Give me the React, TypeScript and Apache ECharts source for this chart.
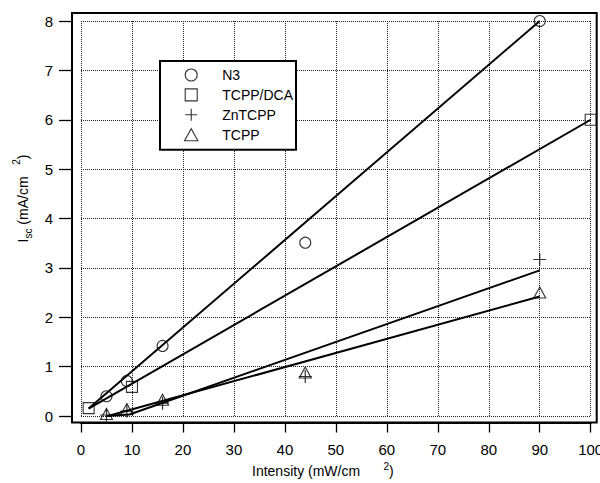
import React, { useEffect, useRef } from "react";
import * as echarts from "echarts";

// ---- data ----
const seriesNames = ["N3", "TCPP/DCA", "ZnTCPP", "TCPP"];

const n3X = [5, 9, 16, 44, 90];
const n3Y = [0.4, 0.71, 1.42, 3.51, 8.0];

const dcaX = [1.5, 10, 100];
const dcaY = [0.16, 0.59, 6.0];

const znX = [5, 9, 16, 44, 90];
const znY = [0.02, 0.1, 0.26, 0.8, 3.17];

const tcppX = [5, 9, 16, 44, 90];
const tcppY = [0.04, 0.14, 0.33, 0.88, 2.5];

// fitted lines (end / kink points)
const n3FitX = [1.5, 90];
const n3FitY = [0.15, 8.0];
const dcaFitX = [1.5, 100];
const dcaFitY = [0.15, 6.0];
const znFitX = [5, 9.5, 90];
const znFitY = [0.0, 0.03, 2.95];
const tcppFitX = [5.3, 90];
const tcppFitY = [0.0, 2.42];

// axis ticks
const xTickMin = 0;
const xTickMax = 100;
const xTickStep = 10;
const yTickMin = 0;
const yTickMax = 8;
const yTickStep = 1;

const zip = (xs: number[], ys: number[]) => xs.map((x, i) => [x, ys[i]]);

const FONT = "Liberation Sans, Arial, Helvetica, sans-serif";

export default function App() {
  const ref = useRef<HTMLDivElement>(null);

  useEffect(() => {
    if (!ref.current) return;
    const chart = echarts.init(ref.current, null, { renderer: "svg", width: 600, height: 483 });

    const gridLeft = 81;
    const gridTop = 21;
    const gridRight = 9.3;
    const gridBottom = 67;
    const W = 600;
    const H = 483;
    const yOff = 9;
    const xOff = 6.5;

    const hollow = { color: "transparent", borderColor: "#000", borderWidth: 1.1 };
    const fitLine = { color: "#000", width: 2 };

    const plusPath = "path://M0,6 L12,6 M6,0 L6,12";
    const squarePath = "path://M0,0 L10,0 L10,10 L0,10 Z";
    const triPath = "path://M5,0 L10,9 L0,9 Z";

    chart.setOption({
      animation: false,
      backgroundColor: "#fff",
      textStyle: { fontFamily: FONT, color: "#000" },
      grid: {
        left: gridLeft,
        top: gridTop,
        right: gridRight,
        bottom: gridBottom,
        containLabel: false,
        outerBoundsMode: "none",
      },
      legend: {
        data: [
          { name: seriesNames[0], icon: "circle" },
          { name: seriesNames[1], icon: squarePath },
          { name: seriesNames[2], icon: plusPath },
          { name: seriesNames[3], icon: triPath },
        ],
        orient: "vertical",
        left: 160,
        top: 61,
        padding: [7, 3, 8, 24],
        itemWidth: 52,
        itemHeight: 12,
        itemGap: 5.9,
        backgroundColor: "#fff",
        borderColor: "#000",
        borderWidth: 2,
        borderRadius: 0,
        itemStyle: { color: "transparent", borderColor: "#000", borderWidth: 1.1 },
        textStyle: { fontFamily: FONT, fontSize: 14, color: "#000" },
        selectedMode: false,
        z: 10,
      },
      xAxis: {
        type: "value",
        min: xTickMin,
        max: xTickMax,
        interval: xTickStep,
        offset: xOff,
        name: "Intensity (mW/cm      {sup|2})",
        nameLocation: "middle",
        nameGap: 38,
        nameTextStyle: {
          fontFamily: FONT,
          fontSize: 14,
          color: "#000",
          lineHeight: 20,
          padding: [0, 26, 0, 0],
          rich: {
            sup: { fontFamily: FONT, fontSize: 10, verticalAlign: "top", lineHeight: 20 },
          },
        },
        axisLine: { show: true, onZero: false, lineStyle: { color: "#000", width: 2 } },
        axisTick: { show: true, length: 10, lineStyle: { color: "#000", width: 1.3 } },
        axisLabel: { margin: 19, fontFamily: FONT, fontSize: 15, color: "#000" },
        splitLine: { show: true, lineStyle: { color: "#222", type: "dotted", width: 1 } },
      },
      yAxis: {
        type: "value",
        min: yTickMin,
        max: yTickMax,
        interval: yTickStep,
        offset: yOff,
        name: "I{sub|sc} (mA/cm   {sup|2})",
        nameLocation: "middle",
        nameRotate: 90,
        nameGap: 28,
        nameTextStyle: {
          fontFamily: FONT,
          fontSize: 14,
          color: "#000",
          lineHeight: 22,
          padding: [0, 0, 0, 40],
          rich: {
            sub: { fontFamily: FONT, fontSize: 10, verticalAlign: "bottom", lineHeight: 20 },
            sup: { fontFamily: FONT, fontSize: 10, verticalAlign: "top", lineHeight: 22 },
          },
        },
        axisLine: { show: true, onZero: false, lineStyle: { color: "#000", width: 2 } },
        axisTick: { show: true, length: 13, lineStyle: { color: "#000", width: 1.3 } },
        axisLabel: { margin: 19, fontFamily: FONT, fontSize: 15, color: "#000" },
        splitLine: { show: true, lineStyle: { color: "#222", type: "dotted", width: 1 } },
      },
      graphic: [
        {
          type: "rect",
          silent: true,
          shape: {
            x: gridLeft - yOff,
            y: gridTop - 8,
            width: W - gridRight + 6 - (gridLeft - yOff),
            height: H - gridBottom + xOff - (gridTop - 8),
          },
          style: { fill: "none", stroke: "#000", lineWidth: 2 },
          z: 5,
        },
      ],
      series: [
        { name: "fitN3", type: "line", data: zip(n3FitX, n3FitY), showSymbol: false, lineStyle: fitLine, z: 3, silent: true },
        { name: "fitDCA", type: "line", data: zip(dcaFitX, dcaFitY), showSymbol: false, lineStyle: fitLine, z: 3, silent: true },
        { name: "fitZn", type: "line", data: zip(znFitX, znFitY), showSymbol: false, lineStyle: fitLine, z: 3, silent: true },
        { name: "fitTCPP", type: "line", data: zip(tcppFitX, tcppFitY), showSymbol: false, lineStyle: fitLine, z: 3, silent: true },
        { name: seriesNames[0], type: "scatter", data: zip(n3X, n3Y), symbol: "circle", symbolSize: 11, itemStyle: hollow, z: 4 },
        { name: seriesNames[1], type: "scatter", data: zip(dcaX, dcaY), symbol: squarePath, symbolSize: 11, itemStyle: hollow, z: 4 },
        { name: seriesNames[2], type: "scatter", data: zip(znX, znY), symbol: plusPath, symbolSize: 13, itemStyle: { ...hollow, borderWidth: 1.2 }, z: 4 },
        { name: seriesNames[3], type: "scatter", data: zip(tcppX, tcppY), symbol: triPath, symbolSize: [12, 11], itemStyle: hollow, z: 4 },
      ],
    });

    return () => chart.dispose();
  }, []);

  return (
    <div
      ref={ref}
      style={{ position: "fixed", left: 0, top: 0, width: 600, height: 483, background: "#fff" }}
    />
  );
}
